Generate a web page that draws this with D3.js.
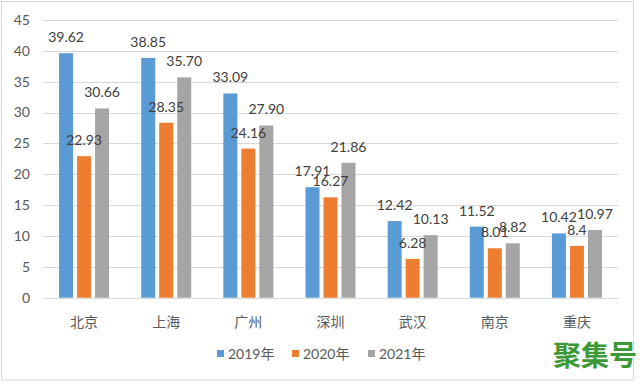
<!DOCTYPE html>
<html><head><meta charset="utf-8">
<script src="https://cdn.jsdelivr.net/npm/d3@7"></script>
<style>body{margin:0;background:#fff}svg{display:block}</style>
</head><body>
<script>
const categories = ["北京","上海","广州","深圳","武汉","南京","重庆"];
const seriesNames = ["2019年","2020年","2021年"];
const v2019 = [39.62,38.85,33.09,17.91,12.42,11.52,10.42];
const v2020 = [22.93,28.35,24.16,16.27,6.28,8.01,8.4];
const v2021 = [30.66,35.70,27.90,21.86,10.13,8.82,10.97];
const labels2019 = ["39.62","38.85","33.09","17.91","12.42","11.52","10.42"];
const labels2020 = ["22.93","28.35","24.16","16.27","6.28","8.01","8.4"];
const labels2021 = ["30.66","35.70","27.90","21.86","10.13","8.82","10.97"];
const yTicks = [0,5,10,15,20,25,30,35,40,45];
const colors = ["#5b9bd5","#ed7d31","#a5a5a5"];

const W=640,H=383;
const svg=d3.select("body").append("svg").attr("width",W).attr("height",H);
svg.append("rect").attr("x",1.5).attr("y",1.5).attr("width",632).attr("height",378.5)
  .attr("fill","#fff").attr("stroke","#d9d9d9").attr("stroke-width",1);

const x=d3.scaleBand().domain(categories).range([43,618]).paddingInner(0).paddingOuter(0);
const y=d3.scaleLinear().domain([0,45]).range([297.7,20]);
const font="Lato, 'Noto Sans CJK SC', sans-serif";

svg.append("g").selectAll("line").data(yTicks).join("line")
  .attr("x1",43).attr("x2",618).attr("y1",d=>Math.round(y(d))+0.5).attr("y2",d=>Math.round(y(d))+0.5)
  .attr("stroke","#d9d9d9").attr("stroke-width",1);

svg.append("g").selectAll("text").data(yTicks).join("text")
  .attr("x",30).attr("y",d=>y(d)).attr("dy","0.35em").attr("text-anchor","end")
  .attr("font-family",font).attr("font-size",14).attr("fill","#595959").text(d=>d);

const series=[{v:v2019,l:labels2019},{v:v2020,l:labels2020},{v:v2021,l:labels2021}];
const bw=14, gap=4;
const groupW=3*bw+2*gap;
const barsG=svg.append("g"), labG=svg.append("g");
series.forEach((s,i)=>{
  const bx=c=>x(c)+x.bandwidth()/2-groupW/2+i*(bw+gap);
  barsG.append("g").selectAll("rect").data(categories).join("rect")
    .attr("x",c=>bx(c)).attr("width",bw)
    .attr("y",(c,j)=>y(s.v[j])).attr("height",(c,j)=>y(0)-y(s.v[j]))
    .attr("fill",colors[i]);
  labG.append("g").selectAll("text").data(categories).join("text")
    .attr("x",c=>bx(c)+bw/2).attr("y",(c,j)=>y(s.v[j])-16).attr("dy","0.35em")
    .attr("text-anchor","middle").attr("font-family",font).attr("font-size",14)
    .attr("fill","#404040").text((c,j)=>s.l[j]);
});

svg.append("g").selectAll("text").data(categories).join("text")
  .attr("x",c=>x(c)+x.bandwidth()/2).attr("y",322).attr("dy","0.35em")
  .attr("text-anchor","middle").attr("font-family","'Noto Sans CJK SC', sans-serif")
  .attr("font-size",14).attr("fill","#595959").text(c=>c);

const legX=[217,292,368];
seriesNames.forEach((n,i)=>{
  svg.append("rect").attr("x",legX[i]).attr("y",350).attr("width",7).attr("height",7).attr("fill",colors[i]);
  svg.append("text").attr("x",legX[i]+11).attr("y",354).attr("dy","0.35em")
    .attr("font-family",font).attr("font-size",14).attr("fill","#595959").text(n);
});

svg.append("text").attr("x",637).attr("y",356).attr("dy","0.35em").attr("text-anchor","end")
  .attr("font-family","'Noto Sans CJK SC', sans-serif").attr("font-weight",700)
  .attr("font-size",28).attr("fill","#3b9a37").text("聚集号");
</script>
</body></html>
